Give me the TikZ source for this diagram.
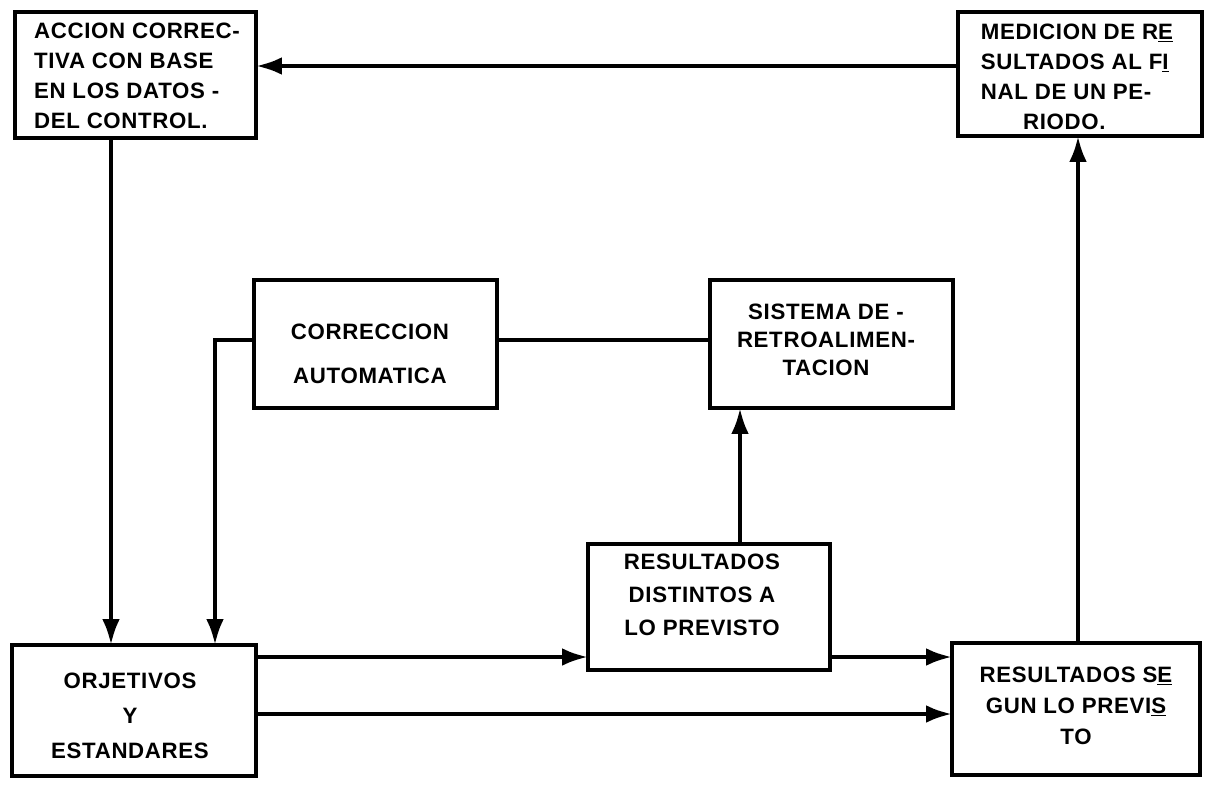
\documentclass[tikz,border=0pt]{standalone}
\usepackage{fontspec}
\setmainfont{Liberation Sans}[LetterSpace=3]
\usetikzlibrary{arrows.meta}
\begin{document}
\begin{tikzpicture}[x=0.03cm,y=-0.03cm,
  box/.style={draw, line width=4pt, rectangle, inner sep=0pt, outer sep=0pt},
  txt/.style={font=\fontsize{19}{25.6}\selectfont\bfseries, inner sep=0pt},
  conn/.style={line width=3.6pt},
  arr/.style={conn, -{Latex[length=22pt,width=15pt]}}]
\useasboundingbox (0,0) rectangle (1214,790);
% boxes
\node[box, minimum width=7.23cm, minimum height=3.78cm] (b1) at (135.5,75) {};
\node[box, minimum width=7.32cm, minimum height=3.72cm] (b2) at (1080,74) {};
\node[box, minimum width=7.29cm, minimum height=3.84cm] (b3) at (375.5,344) {};
\node[box, minimum width=7.29cm, minimum height=3.84cm] (b4) at (831.5,344) {};
\node[box, minimum width=7.26cm, minimum height=3.78cm] (b5) at (709,607) {};
\node[box, minimum width=7.32cm, minimum height=3.93cm] (b6) at (134,710.5) {};
\node[box, minimum width=7.44cm, minimum height=3.96cm] (b7) at (1076,709) {};
% texts
\node[txt, align=left] (t1) at (137,76) {ACCION CORREC-\\TIVA CON BASE\\EN LOS DATOS -\\DEL CONTROL.};
\node[txt, align=left] (t2) at (1077,77) {MEDICION DE R\underline{E}\\SULTADOS AL F\underline{I}\\NAL DE UN PE-\\\hspace*{36pt}RIODO.};
\node[txt, align=center, font=\fontsize{19}{38}\selectfont\bfseries] (t3) at (370,354) {CORRECCION\\AUTOMATICA};
\node[txt, align=center, font=\fontsize{19}{24}\selectfont\bfseries] (t4) at (826,340) {SISTEMA DE -\\RETROALIMEN-\\TACION};
\node[txt, align=center, font=\fontsize{19}{28}\selectfont\bfseries] (t5) at (702,595) {RESULTADOS\\DISTINTOS A\\LO PREVISTO};
\node[txt, align=center, font=\fontsize{19}{30}\selectfont\bfseries] (t6) at (130,716) {ORJETIVOS\\Y\\ESTANDARES};
\node[txt, align=center, font=\fontsize{19}{26.5}\selectfont\bfseries] (t7) at (1076,706) {RESULTADOS S\underline{E}\\GUN LO PREVI\underline{S}\\TO};
% helper coordinates
\coordinate (h66) at (0,66);
\coordinate (h340) at (0,340);
\coordinate (h657) at (0,657);
\coordinate (h714) at (0,714);
\coordinate (v111) at (111,0);
\coordinate (v215) at (215,0);
\coordinate (v740) at (740,0);
\coordinate (v1078) at (1078,0);
% connectors
\draw[arr] (b2.west |- h66) -- (b1.east |- h66);
\draw[arr] (b1.south -| v111) -- (b6.north -| v111);
\draw[arr] (b3.west |- h340) -| (v215 |- b6.north);
\draw[conn] (b3.east |- h340) -- (b4.west |- h340);
\draw[arr] (b5.north -| v740) -- (b4.south -| v740);
\draw[arr] (b6.east |- h657) -- (b5.west |- h657);
\draw[arr] (b5.east |- h657) -- (b7.west |- h657);
\draw[arr] (b6.east |- h714) -- (b7.west |- h714);
\draw[arr] (b7.north -| v1078) -- (b2.south -| v1078);
\end{tikzpicture}
\end{document}
